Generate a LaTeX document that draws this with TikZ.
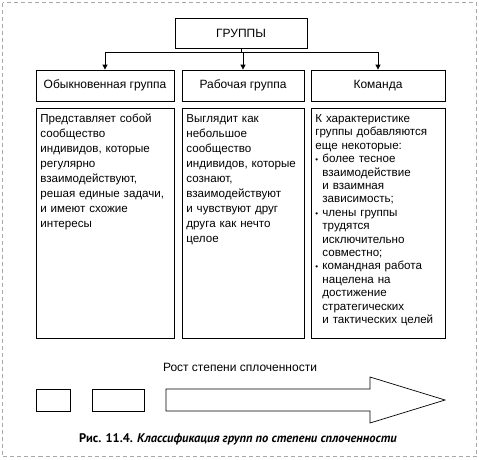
\documentclass[tikz,border=0pt]{standalone}
\usepackage{fontspec}
\setmainfont{Liberation Sans}
\newfontfamily\capfont{PT Sans}
\usetikzlibrary{arrows.meta,positioning}
\definecolor{framegray}{HTML}{A8A8A8}
\newcommand{\itembul}{\makebox[7pt][l]{\footnotesize\textbullet}}
\newcommand{\itemrest}{\hspace*{7pt}}

\begin{document}
\begin{tikzpicture}[
    x=1pt, y=-1pt,
    font=\fontsize{12}{15}\selectfont,
    topbox/.style={
        draw,
        line width=0.8pt,
        minimum width=132pt,
        minimum height=30pt,
        inner sep=0pt
    },
    headbox/.style={
        draw,
        line width=0.8pt,
        minimum height=31pt,
        inner sep=0pt
    },
    textbox/.style={
        draw,
        line width=0.8pt,
        anchor=north west,
        font=\fontsize{11.6}{15}\selectfont,
        inner xsep=4pt,
        inner ysep=5pt,
        text height=9pt,
        text depth=211pt,
        align=left
    },
    scalebox/.style={
        draw,
        line width=0.7pt,
        minimum height=22pt,
        inner sep=0pt
    },
    arrow/.style={-{Triangle[length=5pt,width=5pt]}, line width=0.8pt}
]
    \useasboundingbox (0,0) rectangle (479,459);
    \draw[framegray, line width=1pt, dash pattern=on 4pt off 3pt] (2.5,2.5) rectangle (476.5,456.5);

    % top of the tree
    \node[topbox] (groups) at (241,33) {ГРУППЫ};
    \node[headbox, minimum width=138pt] (usual) at (105,85.5) {Обыкновенная группа};
    \node[headbox, minimum width=122pt] (work) at (243,85.5) {Рабочая группа};
    \node[headbox, minimum width=134pt] (team) at (378,85.5) {Команда};

    \coordinate (split) at (241,52);
    \draw[line width=0.8pt] (groups.south) -- (split);
    \draw[arrow] (split) -| (usual.north);
    \draw[arrow] (split) -| (team.north);
    \draw[arrow] (split -| work.north) -- (work.north);

    % descriptions
    \node[textbox, text width=130pt] (usualtxt) at (36,108)
        {Представляет собой\\сообщество\\индивидов, которые\\регулярно\\взаимодействуют,\\решая единые задачи,\\и имеют схожие\\интересы};
    \node[textbox, text width=114pt] (worktxt) at (182,108)
        {Выглядит как\\небольшое\\сообщество\\индивидов, которые\\сознают,\\взаимодействуют\\и чувствуют друг\\друга как нечто\\целое};
    \node[textbox, text width=126pt, font=\fontsize{11.6}{13.4}\selectfont] (teamtxt) at (311,108)
        {К характеристике\\группы добавляются\\еще некоторые:\\
         \itembul более тесное\\
         \itemrest взаимодействие\\
         \itemrest и взаимная\\
         \itemrest зависимость;\\
         \itembul члены группы\\
         \itemrest трудятся\\
         \itemrest исключительно\\
         \itemrest совместно;\\
         \itembul командная работа\\
         \itemrest нацелена на\\
         \itemrest достижение\\
         \itemrest стратегических\\
         \itemrest и тактических целей};

    % cohesion scale
    \node (growth) at (240,367) {Рост степени сплоченности};
    \node[scalebox, minimum width=34pt] (low) at (53,400) {};
    \node[scalebox, minimum width=52pt] (mid) at (118,400) {};
    \draw[line width=0.7pt] (166,389) -- (370,389) -- (370,377) -- (445,400)
        -- (370,423) -- (370,411) -- (166,411) -- cycle;

    \node[font=\capfont\bfseries\fontsize{12.5}{14}\selectfont] (caption) at (238,439)
        {Рис. 11.4. \textit{Классификация групп по степени сплоченности}};
\end{tikzpicture}
\end{document}
